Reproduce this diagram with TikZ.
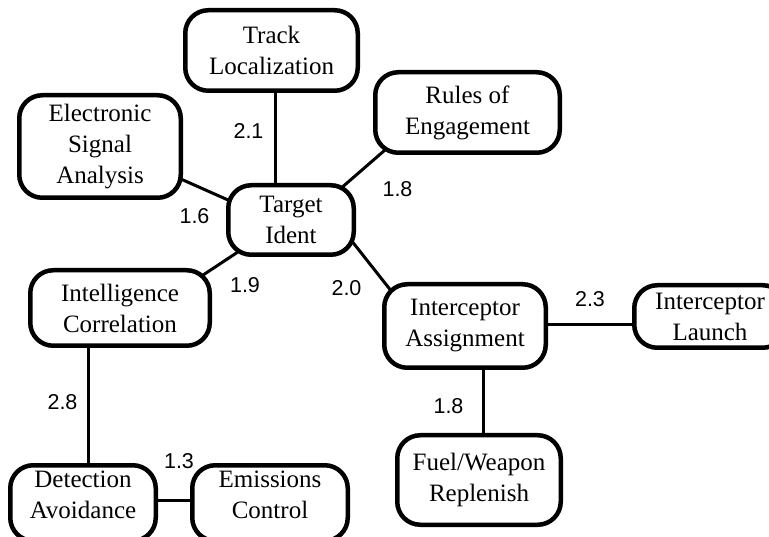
\documentclass[tikz,border=0pt]{standalone}
\usepackage{fontspec}
\setmainfont{Liberation Serif}
\newfontfamily\weightfont{Liberation Sans}
\pgfdeclarelayer{links}
\pgfsetlayers{links,main}
\begin{document}
\begin{tikzpicture}[x=1pt,y=-1pt,
  task/.style={draw, line width=4.5pt, rounded corners=23pt, fill=white,
    align=center, inner sep=0pt, font=\fontsize{25}{31}\selectfont},
  link/.style={line width=3pt},
  weight/.style={font=\weightfont\fontsize{21.5}{24}\selectfont, inner sep=0pt}]
\useasboundingbox (0,0) rectangle (769,537);

% task nodes
\node[task, minimum width=172.5pt, minimum height=80.5pt] (track) at (271.5,50.5) {Track\\Localization};
\node[task, minimum width=161.5pt, minimum height=102.5pt] (esa) at (100,146.5) {Electronic\\Signal\\Analysis};
\node[task, minimum width=125.5pt, minimum height=69.5pt] (target) at (291,220) {Target\\Ident};
\node[task, minimum width=184.5pt, minimum height=80.5pt] (rules) at (467.5,112.5) {Rules of\\Engagement};
\node[task, minimum width=179.5pt, minimum height=75.5pt] (intel) at (120,308) {Intelligence\\Correlation};
\node[task, minimum width=145.5pt, inner ysep=5.5pt, anchor=north] (detect) at (83,463)
  {Detection\\Avoidance\rule[-17pt]{0pt}{17pt}};
\node[task, minimum width=155.5pt, inner ysep=5.5pt, anchor=north] (emis) at (270,463)
  {Emissions\\Control\rule[-17pt]{0pt}{17pt}};
\node[task, minimum width=161.5pt, minimum height=83.5pt] (assign) at (465,326) {Interceptor\\Assignment};
\node[task, minimum width=151.5pt, minimum height=62.5pt] (launch) at (710,316.5) {Interceptor\\Launch};
\node[task, minimum width=163.5pt, minimum height=89.5pt] (fuel) at (479,480) {Fuel/Weapon\\Replenish};

% connectors, drawn beneath the boxes
\begin{pgfonlayer}{links}
\draw[link] ([shift={(3.5,29.5)}]track.center) -- ([shift={(-16,-20)}]target.center);
\draw[link] ([shift={(69.5,27.5)}]esa.center) -- ([shift={(-49.5,-14)}]target.center);
\draw[link] ([shift={(37,-20.5)}]target.center) -- ([shift={(-63.5,21)}]rules.center);
\draw[link] ([shift={(-42.5,25)}]target.center) -- ([shift={(72.5,-26)}]intel.center);
\draw[link] ([shift={(54,12.4)}]target.center) -- ([shift={(-67,-26.4)}]assign.center);
\draw[link] ([shift={(-32,22)}]intel.center) -- ([shift={(5,20)}]detect.north);
\draw[link] ([shift={(57,37)}]detect.north) -- ([shift={(-60,37)}]emis.north);
\draw[link] ([shift={(65,-1)}]assign.center) -- ([shift={(-61,8.5)}]launch.center);
\draw[link] ([shift={(18,24)}]assign.center) -- ([shift={(4,-30)}]fuel.center);
\end{pgfonlayer}

% link weights
\node[weight] (w-track) at (248.5,131) {2.1};
\node[weight] (w-rules) at (397.5,189) {1.8};
\node[weight] (w-esa) at (194.5,216) {1.6};
\node[weight] (w-intel) at (245,285) {1.9};
\node[weight] (w-assign) at (346.5,288.5) {2.0};
\node[weight] (w-detect) at (62.5,402.5) {2.8};
\node[weight] (w-emis) at (179,461) {1.3};
\node[weight] (w-launch) at (590,299) {2.3};
\node[weight] (w-fuel) at (448.5,406) {1.8};
\end{tikzpicture}
\end{document}
